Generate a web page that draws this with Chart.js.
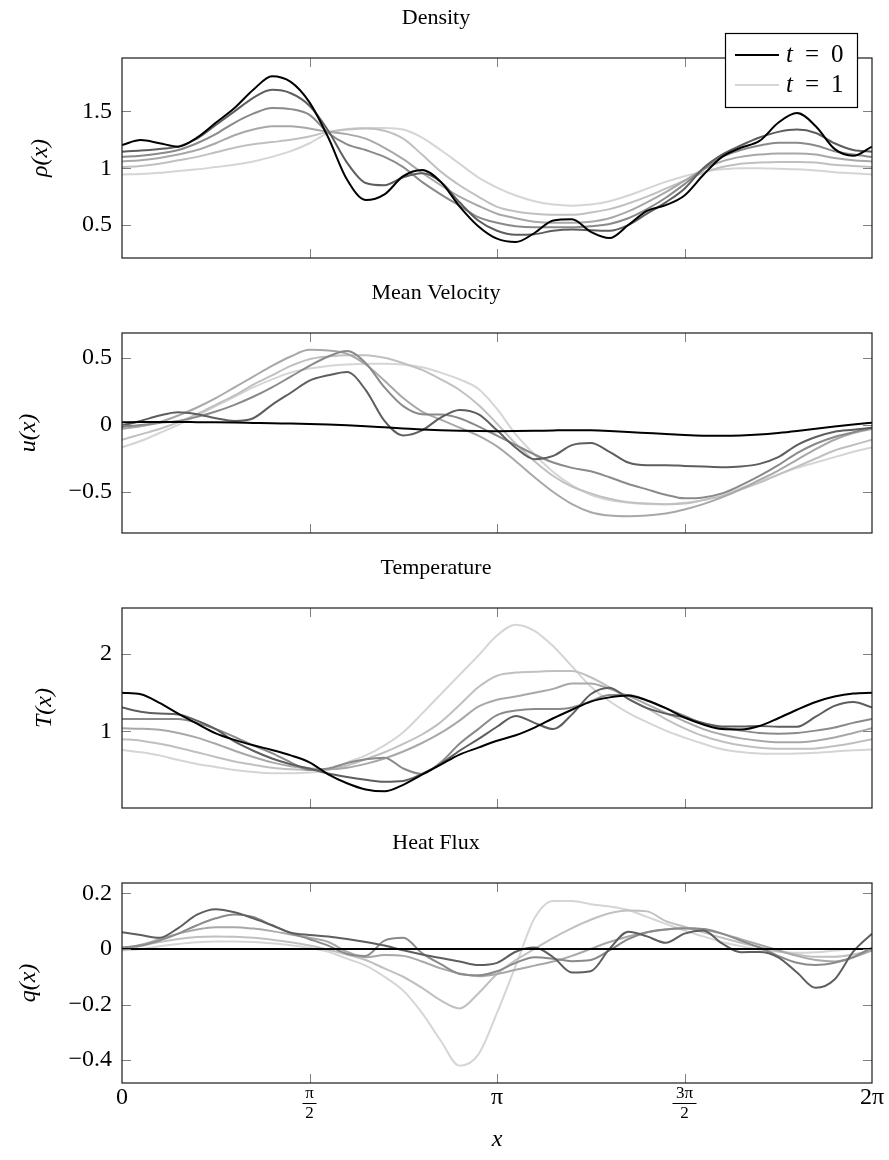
<!DOCTYPE html>
<html>
<head>
<meta charset="utf-8">
<script src="https://cdn.jsdelivr.net/npm/chart.js@4.4.0/dist/chart.umd.min.js"></script>
<style>
  body { margin: 0; background: #fff; }
  #wrap { position: relative; width: 889px; height: 1160px; }
  .panel { position: absolute; left: 0; width: 889px; }
</style>
</head>
<body>
<div id="wrap">
  <div class="panel" style="top:0px"><canvas id="c0" width="889" height="275"></canvas></div>
  <div class="panel" style="top:275px"><canvas id="c1" width="889" height="275"></canvas></div>
  <div class="panel" style="top:550px"><canvas id="c2" width="889" height="275"></canvas></div>
  <div class="panel" style="top:825px"><canvas id="c3" width="889" height="335"></canvas></div>
</div>
<script>
// sample positions: 41 points from 0 to 2pi, step pi/20
const xGrid = Array.from({ length: 41 }, (_, k) => (k * Math.PI) / 20);
const timeLabels = [["t", "=", "0"], ["t", "=", "1"]];

// Density rho(x), t = 0 (black) ... t = 1 (lightest)
const rho0 = [1.205,1.248,1.22,1.19,1.27,1.40,1.53,1.69,1.81,1.76,1.58,1.27,0.90,0.72,0.77,0.93,0.985,0.88,0.665,0.49,0.38,0.35,0.43,0.54,0.55,0.44,0.385,0.50,0.625,0.675,0.76,0.94,1.10,1.18,1.24,1.40,1.485,1.37,1.17,1.11,1.19];
const rho1 = [1.146,1.155,1.17,1.19,1.26,1.38,1.50,1.62,1.69,1.66,1.55,1.33,1.05,0.87,0.85,0.92,0.955,0.88,0.70,0.54,0.45,0.415,0.42,0.45,0.46,0.455,0.45,0.50,0.60,0.70,0.82,1.00,1.12,1.20,1.27,1.32,1.34,1.31,1.22,1.16,1.146];
const rho2 = [1.10,1.11,1.13,1.16,1.22,1.30,1.40,1.48,1.53,1.52,1.47,1.31,1.21,1.16,1.10,1.01,0.88,0.77,0.67,0.57,0.52,0.49,0.48,0.48,0.48,0.49,0.51,0.56,0.64,0.74,0.86,0.99,1.10,1.16,1.20,1.225,1.225,1.20,1.15,1.12,1.10];
const rho3 = [1.06,1.07,1.09,1.12,1.16,1.22,1.29,1.34,1.37,1.37,1.35,1.32,1.30,1.26,1.18,1.08,0.96,0.85,0.75,0.67,0.60,0.56,0.53,0.52,0.52,0.53,0.56,0.62,0.70,0.79,0.89,0.99,1.06,1.10,1.12,1.13,1.13,1.12,1.09,1.07,1.06];
const rho4 = [1.01,1.02,1.04,1.07,1.10,1.14,1.18,1.21,1.23,1.25,1.28,1.32,1.34,1.35,1.33,1.26,1.12,0.97,0.85,0.75,0.66,0.62,0.60,0.59,0.59,0.61,0.64,0.69,0.75,0.82,0.89,0.96,1.01,1.04,1.05,1.055,1.055,1.05,1.03,1.02,1.01];
const rho5 = [0.945,0.95,0.96,0.975,0.99,1.01,1.03,1.06,1.10,1.15,1.22,1.31,1.345,1.355,1.355,1.34,1.27,1.16,1.04,0.92,0.83,0.76,0.71,0.68,0.67,0.68,0.71,0.76,0.82,0.88,0.93,0.97,0.99,1.0,1.0,0.995,0.99,0.98,0.965,0.955,0.945];

// Mean velocity u(x)
const u0 = [0.02,0.022,0.022,0.022,0.021,0.02,0.018,0.015,0.012,0.01,0.007,0.003,-0.003,-0.01,-0.018,-0.026,-0.034,-0.04,-0.044,-0.046,-0.047,-0.046,-0.044,-0.041,-0.039,-0.04,-0.045,-0.052,-0.06,-0.068,-0.075,-0.08,-0.081,-0.079,-0.072,-0.06,-0.045,-0.028,-0.012,0.003,0.017];
const u1 = [-0.005,0.03,0.07,0.094,0.08,0.05,0.03,0.05,0.15,0.24,0.33,0.37,0.395,0.26,0.03,-0.078,-0.04,0.055,0.112,0.08,-0.04,-0.17,-0.255,-0.23,-0.15,-0.135,-0.20,-0.28,-0.30,-0.30,-0.305,-0.31,-0.315,-0.31,-0.29,-0.24,-0.15,-0.09,-0.05,-0.035,-0.02];
const u2 = [-0.015,0.0,0.015,0.03,0.06,0.10,0.15,0.21,0.28,0.36,0.44,0.51,0.55,0.46,0.28,0.14,0.08,0.077,0.05,-0.01,-0.08,-0.15,-0.22,-0.28,-0.32,-0.345,-0.39,-0.44,-0.48,-0.52,-0.547,-0.54,-0.51,-0.45,-0.38,-0.30,-0.21,-0.14,-0.09,-0.055,-0.02];
const u3 = [-0.03,-0.01,0.02,0.07,0.13,0.20,0.28,0.36,0.44,0.51,0.56,0.555,0.53,0.45,0.33,0.20,0.10,0.04,-0.02,-0.08,-0.16,-0.27,-0.39,-0.50,-0.59,-0.65,-0.675,-0.68,-0.675,-0.66,-0.63,-0.59,-0.54,-0.48,-0.41,-0.34,-0.26,-0.18,-0.11,-0.06,-0.03];
const u4 = [-0.11,-0.07,-0.03,0.02,0.08,0.15,0.22,0.30,0.37,0.44,0.49,0.51,0.52,0.52,0.50,0.46,0.41,0.34,0.26,0.15,0.01,-0.14,-0.27,-0.38,-0.46,-0.51,-0.55,-0.575,-0.585,-0.59,-0.585,-0.56,-0.53,-0.48,-0.43,-0.37,-0.31,-0.25,-0.19,-0.15,-0.11];
const u5 = [-0.167,-0.12,-0.06,0.0,0.07,0.14,0.21,0.28,0.34,0.39,0.42,0.44,0.45,0.455,0.455,0.45,0.43,0.39,0.34,0.27,0.12,-0.07,-0.22,-0.35,-0.45,-0.52,-0.56,-0.58,-0.59,-0.59,-0.58,-0.56,-0.52,-0.47,-0.42,-0.37,-0.32,-0.28,-0.24,-0.20,-0.167];

// Temperature T(x)
const T0 = [1.50,1.48,1.37,1.23,1.10,0.975,0.89,0.82,0.76,0.69,0.60,0.445,0.33,0.25,0.225,0.31,0.44,0.57,0.70,0.79,0.88,0.95,1.05,1.17,1.28,1.385,1.44,1.465,1.40,1.30,1.18,1.09,1.03,1.025,1.07,1.17,1.28,1.38,1.45,1.49,1.50];
const T1 = [1.31,1.255,1.23,1.22,1.14,1.03,0.87,0.75,0.65,0.575,0.52,0.455,0.41,0.375,0.35,0.36,0.45,0.58,0.75,0.90,1.06,1.20,1.11,1.03,1.22,1.48,1.565,1.42,1.30,1.23,1.18,1.11,1.065,1.065,1.07,1.06,1.06,1.19,1.33,1.38,1.31];
const T2 = [1.16,1.16,1.16,1.16,1.11,1.03,0.93,0.82,0.72,0.60,0.50,0.52,0.59,0.64,0.66,0.52,0.45,0.60,0.84,1.03,1.21,1.27,1.29,1.29,1.31,1.39,1.47,1.47,1.40,1.30,1.20,1.10,1.05,1.01,0.98,0.97,0.98,1.01,1.05,1.11,1.16];
const T3 = [1.04,1.035,1.02,0.98,0.92,0.84,0.75,0.67,0.60,0.55,0.52,0.51,0.53,0.58,0.65,0.74,0.85,0.98,1.14,1.32,1.41,1.45,1.50,1.55,1.62,1.62,1.55,1.46,1.35,1.24,1.13,1.03,0.96,0.91,0.88,0.86,0.86,0.88,0.92,0.98,1.04];
const T4 = [0.90,0.88,0.84,0.79,0.73,0.67,0.61,0.57,0.53,0.51,0.50,0.51,0.56,0.64,0.73,0.84,0.96,1.12,1.34,1.57,1.72,1.76,1.77,1.78,1.78,1.70,1.57,1.42,1.30,1.16,1.04,0.94,0.87,0.82,0.79,0.775,0.775,0.78,0.81,0.85,0.90];
const T5 = [0.76,0.73,0.69,0.63,0.58,0.54,0.50,0.475,0.46,0.46,0.47,0.50,0.60,0.69,0.82,0.99,1.23,1.48,1.73,1.98,2.24,2.38,2.30,2.10,1.84,1.58,1.39,1.24,1.12,1.01,0.92,0.84,0.77,0.735,0.715,0.71,0.715,0.725,0.74,0.755,0.765];

// Heat flux q(x)
const q0 = [0,0,0,0,0,0,0,0,0,0,0,0,0,0,0,0,0,0,0,0,0,0,0,0,0,0,0,0,0,0,0,0,0,0,0,0,0,0,0,0,0];
const q1 = [0.06,0.05,0.04,0.075,0.123,0.143,0.132,0.11,0.085,0.058,0.05,0.045,0.036,0.025,0.012,-0.005,-0.02,-0.033,-0.045,-0.058,-0.05,-0.01,0.005,-0.03,-0.085,-0.08,0.0,0.062,0.045,0.022,0.055,0.066,0.02,-0.012,-0.011,-0.03,-0.085,-0.14,-0.11,-0.01,0.055];
const q2 = [0.005,0.012,0.03,0.055,0.085,0.11,0.124,0.115,0.085,0.057,0.035,0.012,-0.018,-0.025,0.03,0.04,-0.015,-0.055,-0.09,-0.095,-0.08,-0.05,-0.03,-0.035,-0.044,-0.04,-0.005,0.035,0.06,0.07,0.073,0.072,0.055,0.03,0.005,-0.025,-0.05,-0.058,-0.05,-0.03,0.005];
const q3 = [0.0,0.015,0.035,0.055,0.07,0.078,0.078,0.073,0.064,0.052,0.04,0.025,-0.01,-0.03,-0.022,-0.025,-0.045,-0.07,-0.088,-0.098,-0.09,-0.075,-0.06,-0.045,-0.025,0.0,0.025,0.045,0.06,0.07,0.075,0.07,0.055,0.035,0.015,-0.005,-0.025,-0.04,-0.045,-0.03,-0.005];
const q4 = [-0.005,0.01,0.025,0.036,0.043,0.045,0.044,0.04,0.033,0.024,0.012,-0.003,-0.02,-0.04,-0.07,-0.10,-0.14,-0.185,-0.214,-0.16,-0.09,-0.04,0.0,0.04,0.075,0.105,0.128,0.138,0.135,0.10,0.08,0.06,0.04,0.022,0.006,-0.008,-0.02,-0.028,-0.028,-0.02,-0.005];
const q5 = [-0.005,0.0,0.01,0.018,0.024,0.027,0.027,0.025,0.02,0.013,0.003,-0.01,-0.035,-0.06,-0.10,-0.15,-0.23,-0.33,-0.42,-0.38,-0.23,-0.06,0.11,0.172,0.172,0.161,0.153,0.14,0.115,0.09,0.066,0.045,0.025,0.01,-0.002,-0.01,-0.014,-0.012,-0.006,0.0,0.0];

// axis ticks
const xTicks = [0, Math.PI / 2, Math.PI, (3 * Math.PI) / 2, 2 * Math.PI];
const xTickLabels = ["0", ["π", "2"], "π", ["3π", "2"], "2π"];
const rhoTicks = [0.5, 1, 1.5];
const rhoTickLabels = ["0.5", "1", "1.5"];
const uTicks = [-0.5, 0, 0.5];
const uTickLabels = ["−0.5", "0", "0.5"];
const TTicks = [1, 2];
const TTickLabels = ["1", "2"];
const qTicks = [-0.4, -0.2, 0, 0.2];
const qTickLabels = ["−0.4", "−0.2", "0", "0.2"];

const shades = ["#000000", "#5e5e5e", "#8a8a8a", "#a8a8a8", "#c0c0c0", "#d5d5d5"];
const serif = '"Liberation Serif", "DejaVu Serif", serif';

const panels = [
  { id: "c0", title: "Density", ylabel: "ρ(x)", series: [rho0, rho1, rho2, rho3, rho4, rho5], min: 0.21, max: 1.97, ticks: rhoTicks, labels: rhoTickLabels, titlePad: 26 },
  { id: "c1", title: "Mean Velocity", ylabel: "u(x)", series: [u0, u1, u2, u3, u4, u5], min: -0.805, max: 0.685, ticks: uTicks, labels: uTickLabels, titlePad: 14 },
  { id: "c2", title: "Temperature", ylabel: "T(x)", series: [T0, T1, T2, T3, T4, T5], min: 0.01, max: 2.595, ticks: TTicks, labels: TTickLabels, titlePad: 30 },
  { id: "c3", title: "Heat Flux", ylabel: "q(x)", series: [q0, q1, q2, q3, q4, q5], min: -0.482, max: 0.237, ticks: qTicks, labels: qTickLabels, titlePad: 14 },
];

// box, inward ticks and fraction bars, pgfplots style
const framePlugin = {
  id: "frame",
  afterDatasetsDraw(chart) {
    const { ctx, chartArea: a, scales } = chart;
    const x = scales.x, y = scales.y;
    ctx.save();
    ctx.strokeStyle = "#808080";
    ctx.lineWidth = 1;
    ctx.beginPath();
    x.ticks.forEach((t) => {
      const px = Math.round(x.getPixelForValue(t.value)) + 0.5;
      if (px < a.left + 2 || px > a.right - 2) return;
      ctx.moveTo(px, a.top); ctx.lineTo(px, a.top + 9);
      ctx.moveTo(px, a.bottom); ctx.lineTo(px, a.bottom - 9);
    });
    y.ticks.forEach((t) => {
      const py = Math.round(y.getPixelForValue(t.value)) + 0.5;
      ctx.moveTo(a.left, py); ctx.lineTo(a.left + 9, py);
      ctx.moveTo(a.right, py); ctx.lineTo(a.right - 9, py);
    });
    ctx.stroke();
    ctx.strokeStyle = "#1a1a1a";
    ctx.lineWidth = 1.2;
    ctx.strokeRect(a.left, a.top, a.right - a.left, a.bottom - a.top);
    if (x.options.ticks.display) {
      ctx.strokeStyle = "#000";
      ctx.lineWidth = 1;
      x.ticks.forEach((t, i) => {
        const lab = xTickLabels[i];
        if (!Array.isArray(lab)) return;
        const px = x.getPixelForValue(t.value);
        const hw = lab[0].length > 1 ? 12 : 7;
        const by = a.bottom + 20.5;
        ctx.beginPath();
        ctx.moveTo(px - hw, by); ctx.lineTo(px + hw, by);
        ctx.stroke();
      });
    }
    ctx.restore();
  },
};

const legendPlugin = {
  id: "timeLegend",
  afterDraw(chart) {
    const ctx = chart.ctx;
    const bx = 725, by = 33, bw = 132, bh = 74;
    ctx.save();
    ctx.fillStyle = "#fff";
    ctx.fillRect(bx, by, bw, bh);
    ctx.strokeStyle = "#000";
    ctx.lineWidth = 1.2;
    ctx.strokeRect(bx + 0.5, by + 0.5, bw, bh);
    const ds = chart.data.datasets;
    const rows = [
      { color: ds[0].borderColor, parts: timeLabels[0], y: 55 },
      { color: ds[ds.length - 1].borderColor, parts: timeLabels[1], y: 85 },
    ];
    rows.forEach((r) => {
      ctx.strokeStyle = r.color;
      ctx.lineWidth = 2;
      ctx.beginPath();
      ctx.moveTo(735, r.y); ctx.lineTo(779, r.y);
      ctx.stroke();
      ctx.fillStyle = "#000";
      ctx.textBaseline = "middle";
      ctx.font = "italic 25px " + serif;
      ctx.fillText(r.parts[0], 786, r.y);
      ctx.font = "25px " + serif;
      ctx.fillText(r.parts[1], 805, r.y);
      ctx.fillText(r.parts[2], 831, r.y);
    });
    ctx.restore();
  },
};

panels.forEach((p, pi) => {
  const last = pi === panels.length - 1;
  const datasets = p.series.map((s, i) => ({
    label: "s" + i,
    data: xGrid.map((xv, k) => ({ x: xv, y: s[k] })),
    borderColor: shades[i],
    borderWidth: 2,
    pointRadius: 0,
    cubicInterpolationMode: "monotone",
    fill: false,
  }));
  new Chart(document.getElementById(p.id), {
    type: "line",
    data: { datasets },
    options: {
      responsive: false,
      animation: false,
      devicePixelRatio: 1,
      layout: { padding: { left: 0, right: 17, top: 0, bottom: last ? 0 : 17 } },
      plugins: {
        legend: { display: false },
        tooltip: { enabled: false },
        title: {
          display: true,
          text: p.title,
          color: "#000",
          font: { family: serif, size: 22, weight: "normal" },
          padding: { top: 5, bottom: 26.6 },
        },
      },
      scales: {
        x: {
          type: "linear",
          min: 0,
          max: 2 * Math.PI,
          afterBuildTicks: (s) => { s.ticks = xTicks.map((v) => ({ value: v })); },
          afterFit: (s) => { s.height = last ? 77 : 0; },
          grid: { display: false, drawTicks: false },
          border: { display: false },
          ticks: {
            display: last,
            autoSkip: false,
            maxRotation: 0,
            padding: 0,
            color: "#000",
            font: (c) => (Array.isArray(xTickLabels[c.index])
              ? { family: serif, size: 17, lineHeight: 1.2 }
              : { family: serif, size: 24, lineHeight: 1.2 }),
            callback: (v, i) => xTickLabels[i],
          },
          title: {
            display: last,
            text: "x",
            color: "#000",
            font: { family: serif, size: 24, style: "italic" },
            padding: { top: 0, bottom: 6 },
          },
        },
        y: {
          min: p.min,
          max: p.max,
          afterBuildTicks: (s) => { s.ticks = p.ticks.map((v) => ({ value: v })); },
          afterFit: (s) => { s.width = 122; s.paddingTop = 0; s.paddingBottom = 0; },
          grid: { display: false, drawTicks: false },
          border: { display: false },
          ticks: {
            padding: 10,
            color: "#000",
            font: { family: serif, size: 24 },
            callback: (v, i) => p.labels[i],
          },
          title: {
            display: true,
            text: p.ylabel,
            color: "#000",
            font: { family: serif, size: 24, style: "italic" },
            padding: { top: p.titlePad, bottom: 0 },
          },
        },
      },
    },
    plugins: pi === 0 ? [framePlugin, legendPlugin] : [framePlugin],
  });
});
</script>
</body>
</html>
